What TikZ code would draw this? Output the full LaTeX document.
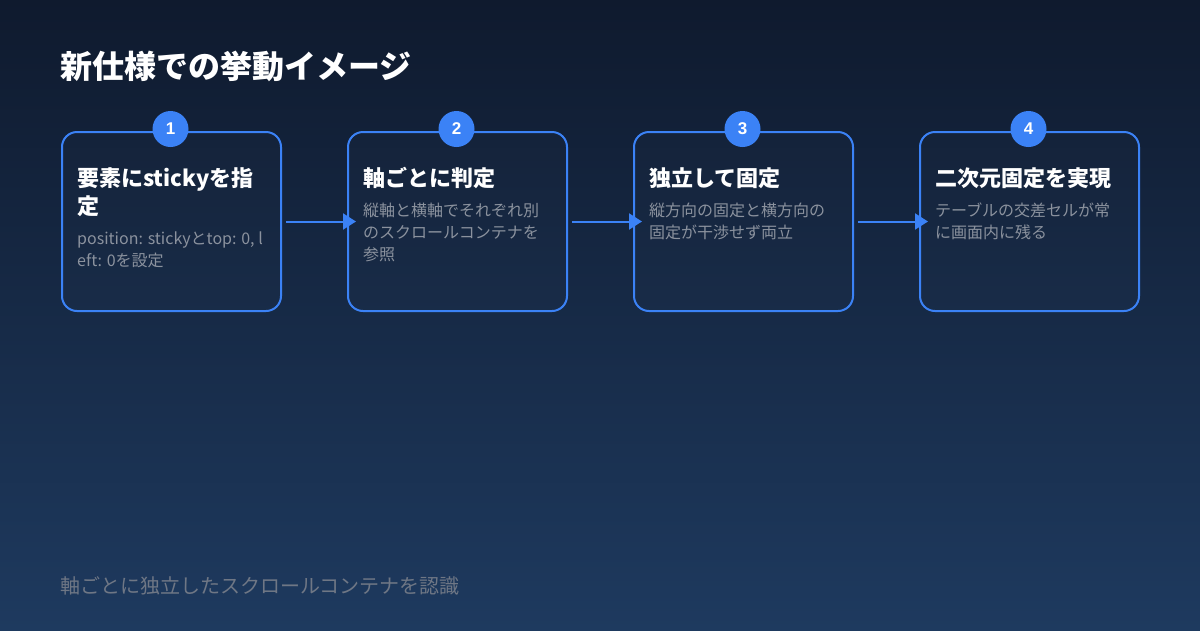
\documentclass[tikz,border=0pt]{standalone}
\usepackage{fontspec}
\setmainfont{Noto Sans CJK JP}
\newfontfamily\numfont{Liberation Sans}
\usetikzlibrary{arrows.meta}
\definecolor{bgtop}{HTML}{0F1A2E}
\definecolor{bgbot}{HTML}{1E3A5F}
\definecolor{accent}{HTML}{3B82F6}
\definecolor{desc}{HTML}{8B929E}
\definecolor{foot}{HTML}{6F7785}
\tikzset{
  stepbox/.style={draw=accent, line width=2pt, rounded corners=15pt, fill=white, fill opacity=0.012,
    minimum width=219pt, minimum height=179pt, anchor=north west, inner sep=0pt},
  badge/.style={circle, fill=accent, minimum size=36pt, inner sep=0pt, text=white,
    font=\numfont\bfseries\fontsize{17}{17}\selectfont},
  ttl/.style={anchor=base west, inner sep=0pt, text=white, font=\bfseries\fontsize{22}{22}\selectfont},
  dsc/.style={anchor=base west, inner sep=0pt, text=desc, font=\fontsize{16}{16}\selectfont},
  flow/.style={draw=accent, line width=2pt, -{Triangle[length=13pt,width=16pt]}}
}
\begin{document}
\begin{tikzpicture}[x=1pt,y=-1pt]
\shade[top color=bgtop, bottom color=bgbot] (0,0) rectangle (1200,630);
\useasboundingbox (0,0) rectangle (1200,630);
\node[anchor=base west, inner sep=0pt, text=white, font=\bfseries\fontsize{32}{32}\selectfont] (title) at (60,78) {新仕様での挙動イメージ};

\node[stepbox] (b1) at (61,131) {};
\node[stepbox] (b2) at (347,131) {};
\node[stepbox] (b3) at (633,131) {};
\node[stepbox] (b4) at (919,131) {};

\node[badge] (n1) at (170.5,129) {1};
\node[badge] (n2) at (456.5,129) {2};
\node[badge] (n3) at (742.5,129) {3};
\node[badge] (n4) at (1028.5,129) {4};

\node[ttl] (t1a) at (77,186) {要素にstickyを指};
\node[ttl] (t1b) at (77,214) {定};
\node[dsc] (d1a) at (77,244) {position: stickyとtop: 0, l};
\node[dsc] (d1b) at (77,266) {eft: 0を設定};

\node[ttl] (t2) at (363,186) {軸ごとに判定};
\node[dsc] (d2a) at (363,216) {縦軸と横軸でそれぞれ別};
\node[dsc] (d2b) at (363,238) {のスクロールコンテナを};
\node[dsc] (d2c) at (363,260) {参照};

\node[ttl] (t3) at (649,186) {独立して固定};
\node[dsc] (d3a) at (649,216) {縦方向の固定と横方向の};
\node[dsc] (d3b) at (649,238) {固定が干渉せず両立};

\node[ttl] (t4) at (935,186) {二次元固定を実現};
\node[dsc] (d4a) at (935,216) {テーブルの交差セルが常};
\node[dsc] (d4b) at (935,238) {に画面内に残る};

\draw[flow] ([xshift=4pt]b1.east) -- ([xshift=9pt]b2.west);
\draw[flow] ([xshift=4pt]b2.east) -- ([xshift=9pt]b3.west);
\draw[flow] ([xshift=4pt]b3.east) -- ([xshift=9pt]b4.west);

\node[anchor=base west, inner sep=0pt, text=foot, font=\fontsize{20}{20}\selectfont] (footer) at (60,593) {軸ごとに独立したスクロールコンテナを認識};
\end{tikzpicture}
\end{document}
